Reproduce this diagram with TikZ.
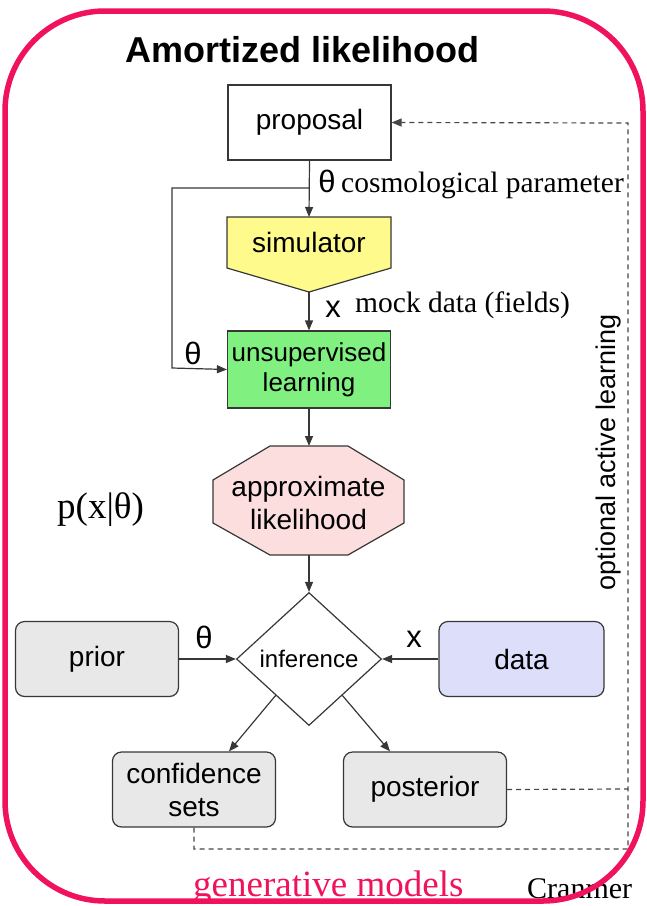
\documentclass[tikz,border=0pt]{standalone}
\usepackage{fontspec}
\setmainfont{Liberation Serif}
\setsansfont{Liberation Sans}
\usetikzlibrary{arrows.meta,shapes.geometric,calc}
\definecolor{framepink}{RGB}{240,18,90}
\definecolor{edgegray}{RGB}{55,55,55}
\definecolor{dashgray}{RGB}{70,70,70}
\definecolor{simyellow}{RGB}{255,250,140}
\definecolor{ugreen}{RGB}{128,240,128}
\definecolor{apxpink}{RGB}{252,222,222}
\definecolor{boxgray}{RGB}{232,232,232}
\definecolor{dblue}{RGB}{220,222,250}
\newcommand\bxfont{\sffamily\fontsize{28}{33}\selectfont}
\newcommand\uxfont{\sffamily\fontsize{26}{30}\selectfont}
\newcommand\ixfont{\sffamily\fontsize{24}{28}\selectfont}
\newcommand\labfont{\sffamily\fontsize{31}{34}\selectfont}
\newcommand\annfont{\rmfamily\fontsize{29.5}{33}\selectfont}
\begin{document}
\begin{tikzpicture}[x=1pt,y=-1pt,
  box/.style={draw=edgegray, line width=1.2pt, minimum width=163pt, minimum height=75pt, inner sep=0pt, align=center, font=\bxfont},
  rbox/.style={box, rounded corners=9pt, fill=boxgray},
  arr/.style={-{Triangle[length=10pt,width=8pt]}, line width=1.2pt, draw=edgegray},
  dashline/.style={line width=1.2pt, draw=dashgray, dash pattern=on 5pt off 4pt},
  lab/.style={font=\labfont, anchor=base, inner sep=0pt},
  ann/.style={font=\annfont, anchor=base west, inner sep=0pt},
  shapeline/.style={draw=edgegray, line width=1.2pt}
]
\useasboundingbox (0,0) rectangle (647,906);
\clip (0,0) rectangle (647,906);

% title
\node[font=\sffamily\bfseries\fontsize{36}{40}\selectfont, anchor=base, inner sep=0pt] (title) at (302.5,62) {Amortized likelihood};

% proposal
\node[box, fill=white] (prop) at (309.5,122.5) {proposal};

% simulator (pentagon)
\filldraw[shapeline, fill=simyellow] (227,217) -- (391,217) -- (391,268) -- (309,292) -- (227,268) -- cycle;
\coordinate (simN) at (309,217);
\coordinate (simS) at (309,292);
\node[font=\bxfont, anchor=base, inner sep=0pt] (sim) at (309,252) {simulator};

% unsupervised learning
\node[box, fill=ugreen, minimum height=77pt, font=\uxfont] (uns) at (309,369.5) {unsupervised\\learning};

% approximate likelihood (octagon)
\filldraw[shapeline, fill=apxpink] (270,446) -- (348,446) -- (404,480) -- (404,523) -- (348,555) -- (270,555) -- (213,523) -- (213,480) -- cycle;
\coordinate (apxN) at (309,446);
\coordinate (apxS) at (309,555);
\node[font=\bxfont, align=center, inner sep=0pt] (apx) at (308.5,503) {approximate\\likelihood};

% inference diamond
\node[diamond, draw=edgegray, line width=1.2pt, fill=white, minimum width=145pt, minimum height=133pt, inner sep=0pt, font=\ixfont] (inf) at (309,659) {inference};

% lower boxes
\node[rbox] (prior) at (97,659) {prior};
\node[rbox, fill=dblue, minimum width=165pt] (data) at (521.5,659) {data};
\node[rbox] (conf) at (194,789.5) {confidence\\sets};
\node[rbox] (post) at (425,789.5) {posterior};

% connectors
\draw[arr] (prop.south) -- (simN);
\coordinate (fb) at (309,188);
\draw[line width=1.2pt, draw=edgegray, -{Triangle[length=10pt,width=8pt]}] (fb) -- (172,188) -- (172,368) -- (uns.west);
\draw[arr] (simS) -- (uns.north);
\draw[arr] (uns.south) -- (apxN);
\draw[arr] (apxS) -- (inf.north);
\draw[arr] (prior.east) -- (inf.west);
\draw[arr] (data.west) -- (inf.east);
\coordinate (infSW) at (276,695);
\coordinate (infSE) at (342,695);
\draw[arr] (infSW) -- ([xshift=35pt]conf.north);
\draw[arr] (infSE) -- ([xshift=-35pt]post.north);

% dashed feedback
\coordinate (dR) at (628,849);
\coordinate (dT) at (628,123);
\draw[dashline, -{Triangle[length=10pt,width=8pt]}] (conf.south) -- (194,849) -- (dR) -- (dT) -- (prop.east);
\draw[dashline] (post.east) -- (628,789);

% labels
\node[lab] (l1) at (327,192) {θ};
\node[ann] (a1) at (341,192) {cosmological parameter};
\node[lab] (l2) at (333,317) {x};
\node[ann] (a2) at (355,312) {mock data (fields)};
\node[lab] (l3) at (193,364) {θ};
\node[lab] (l4) at (204,648) {θ};
\node[lab] (l5) at (414,647) {x};
\node[font=\rmfamily\fontsize{37}{40}\selectfont, anchor=base west, inner sep=0pt] (pxt) at (57,518) {p(x|θ)};
\node[font=\sffamily\fontsize{27}{30}\selectfont, rotate=90, inner sep=0pt] (oal) at (609,452) {optional active learning};
\node[font=\rmfamily\fontsize{37}{40}\selectfont, text=framepink, anchor=base west, inner sep=0pt] (gen) at (193,896) {generative models};
\node[font=\rmfamily\fontsize{30}{34}\selectfont, anchor=base west, inner sep=0pt] (cite) at (527,898) {Cranmer};

% frame
\draw[framepink, line width=5.5pt, rounded corners=100pt] (5,11) rectangle (643,901);
\end{tikzpicture}
\end{document}
